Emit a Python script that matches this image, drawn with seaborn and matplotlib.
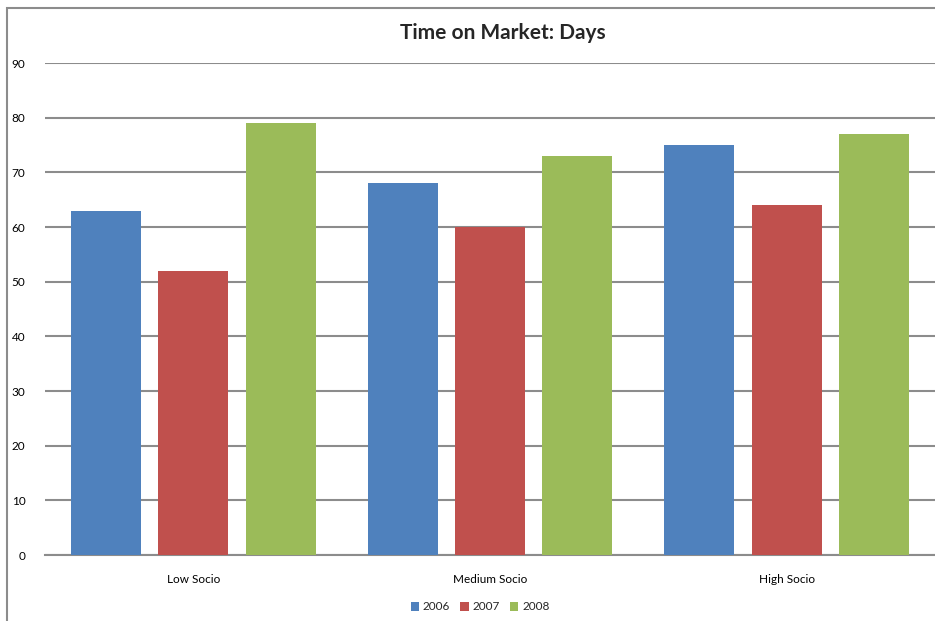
import matplotlib
matplotlib.use("Agg")
import matplotlib.pyplot as plt
from matplotlib.patches import Rectangle
import seaborn as sns
import pandas as pd

categories = ["Low Socio", "Medium Socio", "High Socio"]
years = ["2006", "2007", "2008"]
values_2006 = [63, 68, 75]
values_2007 = [52, 60, 64]
values_2008 = [79, 73, 77]
y_ticks = [0, 10, 20, 30, 40, 50, 60, 70, 80, 90]

colors = ["#4F81BD", "#C0504D", "#9BBB59"]

rows = []
for year, vals in zip(years, [values_2006, values_2007, values_2008]):
    for cat, v in zip(categories, vals):
        rows.append({"category": cat, "year": year, "days": v})
df = pd.DataFrame(rows)

sns.set_theme(style="white")
plt.rcParams["font.family"] = ["Lato", "DejaVu Sans"]

fig = plt.figure(figsize=(9.35, 6.21), dpi=100)
ax = fig.add_axes([45 / 935, 1 - 555 / 621, 1 - 45 / 935, (555 - 63) / 621])

sns.barplot(data=df, x="category", y="days", hue="year", order=categories,
            hue_order=years, palette=colors, width=0.884, gap=0.2,
            saturation=1, ax=ax, legend=False, zorder=3, linewidth=0,
            edgecolor="none")

ax.set_ylim(0, 90)
ax.set_xlim(-0.5, 2.5)
ax.set_yticks(y_ticks)
ax.set_yticklabels([str(t) for t in y_ticks])
ax.yaxis.grid(True, color="#8C8C8C", linewidth=1.5, zorder=0)
ax.set_axisbelow(True)
for side in ["left", "right", "top"]:
    ax.spines[side].set_visible(False)
ax.spines["bottom"].set_color("#8C8C8C")
ax.spines["bottom"].set_linewidth(1.5)
ax.tick_params(axis="both", length=0, labelsize=8.5, colors="#000000")
ax.tick_params(axis="y", pad=14)
ax.tick_params(axis="x", pad=14)
ax.set_xlabel("")
ax.set_ylabel("")

fig.text(503 / 935, 1 - 33 / 621, "Time on Market: Days", ha="center",
         va="center", fontsize=15, fontweight="bold")

# legend with square markers along the bottom
handles = [Rectangle((0, 0), 1, 1, facecolor=c, edgecolor="none") for c in colors]
fig.legend(handles, years, loc="center", bbox_to_anchor=(480 / 935, 1 - 607 / 621),
           ncol=3, frameon=False, fontsize=8.5, handlelength=0.7, handleheight=0.7,
           handletextpad=0.3, columnspacing=0.9)

# outer chart border
fig.add_artist(Rectangle((7 / 935, -0.1), 1.2, 1 - 8 / 621 + 0.1,
                         transform=fig.transFigure, fill=False,
                         edgecolor="#8C8C8C", linewidth=1.5))

fig.savefig("out.png", dpi=100)
